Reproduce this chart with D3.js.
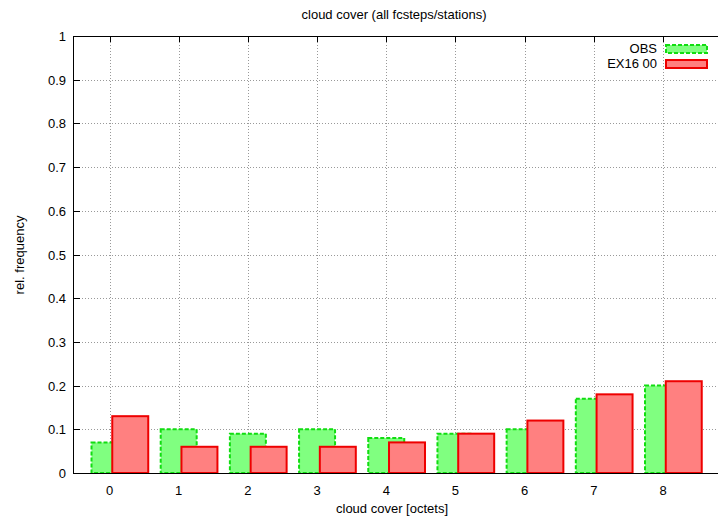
<!DOCTYPE html>
<meta charset="utf-8">
<style>
body { margin: 0; background: #fff; }
text { font-family: 'Liberation Sans', Arial, sans-serif; font-size: 13px; fill: #000; }
.grid line { stroke: #999; stroke-width: 1; stroke-dasharray: 1,2; }
</style>
<body>
<svg width="718" height="519"></svg>
<script src="https://d3js.org/d3.v7.min.js"></script>
<script>

var categories = [0, 1, 2, 3, 4, 5, 6, 7, 8];
var obs = [0.07, 0.10, 0.09, 0.10, 0.08, 0.09, 0.10, 0.17, 0.20];
var ex16 = [0.13, 0.06, 0.06, 0.06, 0.07, 0.09, 0.12, 0.18, 0.21];
var yTicks = [0, 0.1, 0.2, 0.3, 0.4, 0.5, 0.6, 0.7, 0.8, 0.9, 1];
var seriesNames = ["OBS", "EX16 00"];

var svg = d3.select("svg"),
    plotL = 73, plotR = 718, plotT = 36, plotB = 473;

var x = d3.scaleLinear().domain([0, 8]).range([109.5, 663]);
var y = d3.scaleLinear().domain([0, 1]).range([plotB, plotT]);
var bw = 0.52, off = 0.3;

// grid
var grid = svg.append("g").attr("class", "grid");
grid.selectAll(".gy").data(yTicks.slice(1, -1)).enter().append("line")
    .attr("x1", plotL).attr("x2", plotR)
    .attr("y1", d => Math.round(y(d)) + 0.5).attr("y2", d => Math.round(y(d)) + 0.5);
grid.selectAll(".gx").data(categories).enter().append("line")
    .attr("x1", d => Math.round(x(d)) + 0.5).attr("x2", d => Math.round(x(d)) + 0.5)
    .attr("y1", plotT).attr("y2", plotB);

// bars
svg.selectAll(".obs").data(obs).enter().append("rect")
    .attr("x", (d, i) => x(categories[i] - bw / 2))
    .attr("width", x(bw) - x(0))
    .attr("y", d => y(d))
    .attr("height", d => y(0) - y(d))
    .attr("fill", "#80ff80")
    .attr("stroke", "#11dd11")
    .attr("stroke-width", 2)
    .attr("stroke-dasharray", "4,2");

svg.selectAll(".ex").data(ex16).enter().append("rect")
    .attr("x", (d, i) => x(categories[i] + off - bw / 2))
    .attr("width", x(bw) - x(0))
    .attr("y", d => y(d))
    .attr("height", d => y(0) - y(d))
    .attr("fill", "#ff8080")
    .attr("stroke", "#ee0000")
    .attr("stroke-width", 2);

// border
svg.append("path")
    .attr("d", "M" + plotR + "," + (plotT + 0.5) + "H" + (plotL + 0.5) + "V" + (plotB + 0.5) + "H" + plotR)
    .attr("fill", "none").attr("stroke", "#000").attr("stroke-width", 1);

// ticks
svg.selectAll(".ty").data(yTicks).enter().append("line")
    .attr("x1", plotL).attr("x2", plotL + 7)
    .attr("y1", d => Math.round(y(d)) + 0.5).attr("y2", d => Math.round(y(d)) + 0.5)
    .attr("stroke", "#000");
svg.selectAll(".tx").data(categories).enter().append("line")
    .attr("x1", d => Math.round(x(d)) + 0.5).attr("x2", d => Math.round(x(d)) + 0.5)
    .attr("y1", plotT).attr("y2", plotT + 6)
    .attr("stroke", "#000");

// tick labels
svg.selectAll(".ly").data(yTicks).enter().append("text")
    .attr("x", 66).attr("y", d => y(d) + 5)
    .attr("text-anchor", "end")
    .text(d => d);
svg.selectAll(".lx").data(categories).enter().append("text")
    .attr("x", d => x(d)).attr("y", 495)
    .attr("text-anchor", "middle")
    .text(d => d);

// titles
svg.append("text").attr("x", 394).attr("y", 19).attr("text-anchor", "middle")
    .text("cloud cover (all fcsteps/stations)");
svg.append("text").attr("x", 392).attr("y", 513).attr("text-anchor", "middle")
    .text("cloud cover [octets]");
svg.append("text").attr("transform", "translate(24,255) rotate(-90)").attr("text-anchor", "middle")
    .text("rel. frequency");

// legend
var leg = svg.append("g");
seriesNames.forEach(function(name, i) {
  var yy = 49 + i * 15;
  leg.append("text").attr("x", 657).attr("y", yy + 4).attr("text-anchor", "end").text(name);
  leg.append("rect").attr("x", 666).attr("y", yy - 4).attr("width", 41).attr("height", 8)
    .attr("fill", i ? "#ff8080" : "#80ff80")
    .attr("stroke", i ? "#ee0000" : "#11dd11")
    .attr("stroke-width", 2)
    .attr("stroke-dasharray", i ? null : "4,2");
});

</script>
